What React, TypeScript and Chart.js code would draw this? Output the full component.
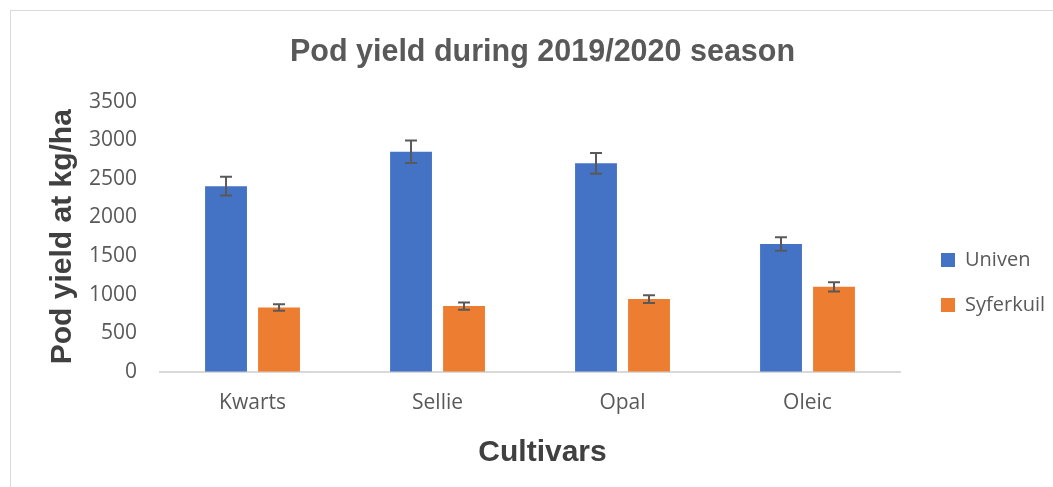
import React, { useEffect, useRef } from "react";
import { Chart, registerables } from "chart.js";

Chart.register(...registerables);

const categories = ["Kwarts", "Sellie", "Opal", "Oleic"];
const seriesNames = ["Univen", "Syferkuil"];
const univenValues = [2405, 2850, 2700, 1655];
const univenErrors = [120, 145, 135, 87];
const syferkuilValues = [833, 851, 942, 1101];
const syferkuilErrors = [43, 47, 50, 60];
const yTicks = [0, 500, 1000, 1500, 2000, 2500, 3000, 3500];

const errorBarPlugin = {
  id: "errorBars",
  afterDatasetsDraw(chart: any) {
    const { ctx } = chart;
    const yScale = chart.scales.y;
    ctx.save();
    ctx.strokeStyle = "#595959";
    ctx.lineWidth = 2;
    chart.data.datasets.forEach((ds: any, di: number) => {
      const meta = chart.getDatasetMeta(di);
      if (meta.hidden) return;
      const errs: number[] = ds.errors || [];
      meta.data.forEach((bar: any, i: number) => {
        const v = ds.data[i];
        const e = errs[i];
        if (e == null) return;
        const x = bar.x;
        const yTop = yScale.getPixelForValue(v + e);
        const yBot = yScale.getPixelForValue(v - e);
        const cap = 6;
        ctx.beginPath();
        ctx.moveTo(x, yTop);
        ctx.lineTo(x, yBot);
        ctx.moveTo(x - cap, yTop);
        ctx.lineTo(x + cap, yTop);
        ctx.moveTo(x - cap, yBot);
        ctx.lineTo(x + cap, yBot);
        ctx.stroke();
      });
    });
    ctx.restore();
  },
};

export default function App() {
  const canvasRef = useRef<HTMLCanvasElement | null>(null);

  useEffect(() => {
    document.body.style.margin = "0";
    document.body.style.overflow = "hidden";
    const canvas = canvasRef.current;
    if (!canvas) return;
    const chart = new Chart(canvas, {
      type: "bar",
      data: {
        labels: categories,
        datasets: [
          {
            label: seriesNames[0],
            data: univenValues,
            errors: univenErrors,
            backgroundColor: "#4472C4",
            categoryPercentage: 0.573,
            barPercentage: 0.79,
          } as any,
          {
            label: seriesNames[1],
            data: syferkuilValues,
            errors: syferkuilErrors,
            backgroundColor: "#ED7D31",
            categoryPercentage: 0.573,
            barPercentage: 0.79,
          } as any,
        ],
      },
      options: {
        responsive: false,
        animation: false,
        layout: { padding: { left: 30, right: 5, top: 0, bottom: 16 } },
        plugins: {
          title: {
            display: true,
            text: "Pod yield during 2019/2020 season",
            color: "#595959",
            font: { family: "'Liberation Sans', Arial, sans-serif", size: 30.5, weight: "bold", lineHeight: 1.2 },
            padding: { top: 34, bottom: 31 },
          },
          subtitle: {
            display: true,
            position: "bottom",
            text: "Cultivars",
            color: "#404040",
            font: { family: "'Liberation Sans', Arial, sans-serif", size: 30, weight: "bold", lineHeight: 1.2 },
            padding: { top: 0, bottom: 0 },
          },
          legend: {
            display: true,
            position: "right",
            title: {
              display: true,
              text: "",
              font: { size: 10, lineHeight: 1 },
              padding: { top: 84, bottom: 0 },
            },
            labels: {
              boxWidth: 14,
              boxHeight: 14,
              padding: 25,
              color: "#595959",
              font: { family: "'Open Sans', sans-serif", size: 20 },
            },
          },
          tooltip: { enabled: false },
        },
        scales: {
          x: {
            grid: { display: false, drawTicks: false },
            border: { display: true, color: "#d9d9d9", width: 2 },
            ticks: {
              color: "#595959",
              padding: 19,
              font: { family: "'Open Sans', sans-serif", size: 21, lineHeight: 1.2 },
            },
          },
          y: {
            min: 0,
            max: 3500,
            afterBuildTicks: (scale: any) => {
              scale.ticks = yTicks.map((v) => ({ value: v }));
            },
            grid: { display: false, drawTicks: false },
            border: { display: false },
            ticks: {
              color: "#595959",
              padding: 23,
              font: { family: "'Open Sans', sans-serif", size: 21, lineHeight: 1.2 },
              callback: (value: any) => String(value),
            },
            title: {
              display: true,
              text: "Pod yield at kg/ha",
              color: "#404040",
              font: { family: "'Liberation Sans', Arial, sans-serif", size: 30, weight: "bold", lineHeight: 0.2 },
              padding: { top: 30, bottom: 0 },
            },
          },
          spacer: {
            type: "linear",
            position: "right",
            display: true,
            grid: { display: false, drawTicks: false },
            border: { display: false },
            ticks: { display: false },
            afterFit: (scale: any) => {
              scale.width = 16;
            },
          },
        },
      } as any,
      plugins: [errorBarPlugin],
    });
    return () => chart.destroy();
  }, []);

  return (
    <div style={{ position: "relative", width: 1053, height: 487, overflow: "hidden", background: "#fff" }}>
      <div
        style={{
          position: "absolute",
          left: 10,
          top: 10,
          width: 1100,
          height: 520,
          borderLeft: "1px solid #d9d9d9",
          borderTop: "1px solid #d9d9d9",
        }}
      />
      <canvas
        ref={canvasRef}
        width={1060}
        height={487}
        style={{ position: "absolute", left: 0, top: 0, width: 1060, height: 487 }}
      />
    </div>
  );
}
